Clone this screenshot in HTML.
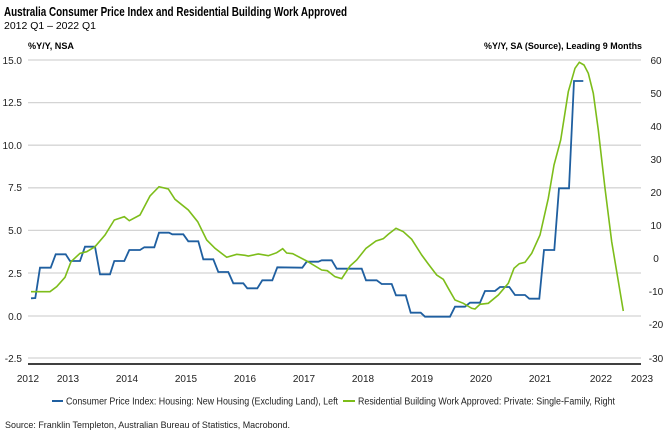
<!DOCTYPE html>
<html><head><meta charset="utf-8"><style>body{margin:0;background:#fff}svg{display:block}</style></head><body>
<svg width="668" height="437" viewBox="0 0 668 437" font-family="Liberation Sans, Arial, sans-serif">
<text x="4" y="16" font-size="12.5" font-weight="bold" textLength="343" lengthAdjust="spacingAndGlyphs">Australia Consumer Price Index and Residential Building Work Approved</text>
<text x="4" y="29" font-size="10.5" textLength="92" lengthAdjust="spacingAndGlyphs">2012 Q1 – 2022 Q1</text>
<text x="28" y="49" font-size="9.5" font-weight="bold" textLength="46" lengthAdjust="spacingAndGlyphs">%Y/Y, NSA</text>
<text x="642" y="49" font-size="9.5" font-weight="bold" text-anchor="end" textLength="158" lengthAdjust="spacingAndGlyphs">%Y/Y, SA (Source), Leading 9 Months</text>
<g stroke="#d4d4d4" stroke-width="1.3">
<line x1="28" x2="641" y1="60" y2="60"/><line x1="28" x2="641" y1="102.6" y2="102.6"/><line x1="28" x2="641" y1="145.2" y2="145.2"/><line x1="28" x2="641" y1="187.8" y2="187.8"/><line x1="28" x2="641" y1="230.4" y2="230.4"/><line x1="28" x2="641" y1="273" y2="273"/><line x1="28" x2="641" y1="316" y2="316"/><line x1="28" x2="641" y1="358" y2="358"/>
</g>
<line x1="28" x2="641" y1="364" y2="364" stroke="#000" stroke-width="1.6"/>
<g font-size="10" fill="#222" text-anchor="end">
<text x="22" y="64">15.0</text><text x="22" y="106">12.5</text><text x="22" y="149">10.0</text><text x="22" y="191">7.5</text><text x="22" y="234">5.0</text><text x="22" y="277">2.5</text><text x="22" y="320">0.0</text><text x="22" y="362">-2.5</text>
</g>
<g font-size="10" fill="#222" text-anchor="middle">
<text x="656" y="64">60</text><text x="656" y="97">50</text><text x="656" y="130">40</text><text x="656" y="163">30</text><text x="656" y="196">20</text><text x="656" y="229">10</text><text x="656" y="262">0</text><text x="656" y="295">-10</text><text x="656" y="328">-20</text><text x="656" y="362">-30</text>
<text x="28" y="382">2012</text><text x="68" y="382">2013</text><text x="127" y="382">2014</text><text x="186" y="382">2015</text><text x="245" y="382">2016</text><text x="304" y="382">2017</text><text x="363" y="382">2018</text><text x="422" y="382">2019</text><text x="481" y="382">2020</text><text x="540" y="382">2021</text><text x="601" y="382">2022</text><text x="642" y="382">2023</text>
</g>
<polyline fill="none" stroke="#1f5fa0" stroke-width="1.8" points="31,298.3 35.3,298 40,267.7 50.7,267.7 55.7,254.3 65.7,254.3 70,261 80,261 85,246.7 95,246.7 100,274.3 110,274.3 114.3,261 124.3,261 129.3,250 140,250 144.3,247.3 154.3,247.3 159,232.7 169,232.7 172.3,234.3 183.3,234.3 188.3,241.3 198.3,241.3 203.3,259.3 213.3,259.3 218.3,272 228.3,272 233.3,283.3 243.3,283.3 247.3,288.3 257.3,288.3 262.3,280.3 272.3,280.3 277.3,267.3 302.3,267.7 306.7,261.7 318.3,261.7 321.7,260.3 331.7,260.3 336.7,268.7 361.7,268.7 366,280.3 376.7,280.3 381.7,284 391.7,284 396,295.3 405.7,295.3 410.7,312.7 420.7,312.7 425,316.7 450,316.7 455,306.7 465,306.7 470,302.7 480,302.7 485,291 495,291 500,287 509.3,287 515,295 525,295 529.3,298.7 539.3,298.7 544,250 554.3,250 559,188.3 569,188.3 574,81 583.3,81"/>
<polyline fill="none" stroke="#7dbd1a" stroke-width="1.6" points="31,291.7 50,291.7 56.7,286.7 65,277.3 71,261.7 80,253.3 86.7,251.7 95,246.7 105,235 114.3,220 124.3,216.7 129.3,220.7 140,215 150,196 159,186.7 168.3,189 175,199.3 188.3,210 197.7,221.7 206.7,240 215,248.3 226.7,257.3 236.7,254.3 245,255.3 248.3,256 258.3,254 268.3,255.7 276.7,252.7 282.7,248.7 286.7,253 292.7,253.7 306.7,261 321.7,270 327.3,270.7 335,276.7 341.7,278.7 350,266 356.7,260 366,248.3 376,241 383.3,238.7 388.3,234.3 396,228.3 403.3,231.7 411.7,239.3 421.7,255 428.3,264 436.7,275 443.3,279.3 448.3,288.3 455,300 463.3,303.3 471.7,308.3 475,309 480,304.3 488.3,303.3 498.3,295 508.3,283.3 514,268.3 519.3,263.7 525,262.3 531.7,253.3 540,235 548.3,198.3 554,165 560.7,140 568.3,91.7 575,68.3 579.3,62.3 584,65 588.3,73.3 593.3,93.3 598.3,130 605,188.3 611.7,241.7 623.3,311"/>
<line x1="52" x2="63" y1="401" y2="401" stroke="#1f5fa0" stroke-width="2"/>
<text x="66" y="404.5" font-size="10" fill="#222" textLength="272" lengthAdjust="spacingAndGlyphs">Consumer Price Index: Housing: New Housing (Excluding Land), Left</text>
<line x1="343" x2="355" y1="401" y2="401" stroke="#7dbd1a" stroke-width="2"/>
<text x="358" y="404.5" font-size="10" fill="#222" textLength="257" lengthAdjust="spacingAndGlyphs">Residential Building Work Approved: Private: Single-Family, Right</text>
<text x="5" y="428" font-size="9.5" fill="#222" textLength="285" lengthAdjust="spacingAndGlyphs">Source: Franklin Templeton, Australian Bureau of Statistics, Macrobond.</text>
</svg>
</body></html>
